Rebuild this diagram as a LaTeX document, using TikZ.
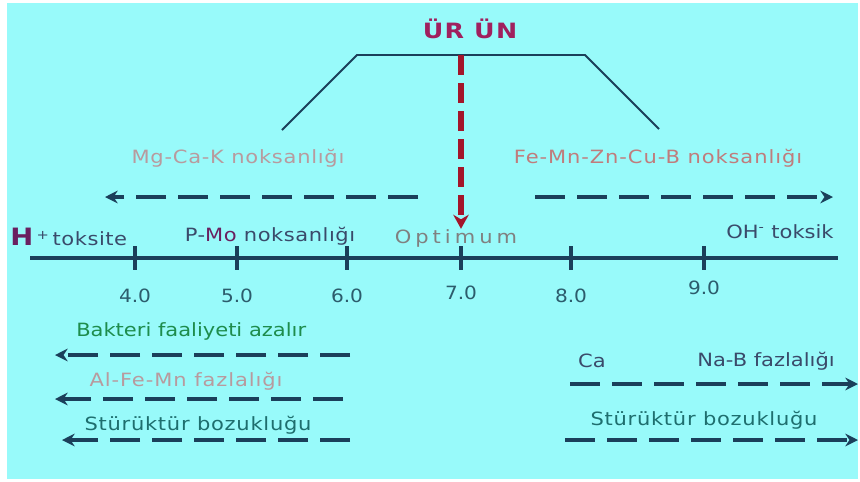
\documentclass[tikz,border=0pt]{standalone}
\usepackage{fontspec}
\setmainfont{DejaVu Sans}
\usetikzlibrary{arrows.meta, positioning}
\definecolor{bgcyan}{HTML}{98FAFA}
\definecolor{axisblue}{HTML}{1B3F5A}
\definecolor{optred}{HTML}{A3152A}
\definecolor{urunpink}{HTML}{A0205E}
\definecolor{greypink}{HTML}{B89A9E}
\definecolor{rosered}{HTML}{C07C7C}
\definecolor{bactgreen}{HTML}{1E8C4C}
\definecolor{tealtext}{HTML}{1E6E6E}
\definecolor{numteal}{HTML}{2C5C6C}
\definecolor{hpurple}{HTML}{6A2060}
\definecolor{darktext}{HTML}{3A4A6A}

\begin{document}
\begin{tikzpicture}[
    lbl/.style={font=\fontsize{13}{15}\selectfont\addfontfeatures{FakeStretch=1.15, LetterSpace=#1},
                inner sep=1pt},
    lbl/.default=4,
    num/.style={font=\fontsize{13}{15}\selectfont\addfontfeatures{FakeStretch=1.1},
                inner sep=1pt, text=numteal},
    dasharrow/.style={draw=axisblue, line width=2.6pt,
                      dash pattern=on 0.75cm off 0.3cm,
                      -{Stealth[length=9pt, width=9pt]}},
  ]
  % background
  \useasboundingbox (0,0) rectangle (21.5,-12.025);
  \fill[white] (0,0) rectangle (21.5,-12.025);
  \fill[bgcyan] (0.175,-0.075) rectangle (21.45,-11.975);

  % yield curve
  \coordinate (c1) at (7.05,-3.25);
  \coordinate (c2) at (8.925,-1.375);
  \coordinate (c3) at (14.625,-1.375);
  \coordinate (c4) at (16.475,-3.225);
  \draw[axisblue, line width=1.4pt] (c1) -- (c2) -- (c3) -- (c4);
  \node[font=\bfseries\fontsize{15}{17}\selectfont\addfontfeatures{FakeStretch=1.2, LetterSpace=6},
        text=urunpink] (urun) at (11.75,-0.72) {ÜR ÜN};

  % pH axis
  \coordinate (ax0) at (0.75,-6.45);
  \coordinate (ax1) at (20.95,-6.45);
  \draw[axisblue, line width=2.8pt] (ax0) -- (ax1);
  \foreach \x/\v/\y [count=\i] in {3.375/4.0/-7.4, 5.925/5.0/-7.4, 8.675/6.0/-7.4,
                                   11.525/7.0/-7.32, 14.275/8.0/-7.4, 17.6/9.0/-7.2} {
    \coordinate (t\i) at (\x,-6.15);
    \coordinate (b\i) at (\x,-6.75);
    \draw[axisblue, line width=2.2pt] (t\i) -- (b\i);
    \node[num] (n\i) at (\x,\y) {\v};
  }

  % optimum
  \coordinate (opttop) at (11.525,-1.375);
  \coordinate (optbot) at (11.525,-5.72);
  \draw[optred, line width=4pt, dash pattern=on 0.5cm off 0.2cm,
        -{Stealth[length=10pt, width=11pt]}] (opttop) -- (optbot);

  % upper labels and arrows
  \node[lbl, text=greypink] (mgcak) at (5.95,-3.95) {Mg-Ca-K noksanlığı};
  \node[lbl=5, text=rosered] (femn) at (16.45,-3.95) {Fe-Mn-Zn-Cu-B noksanlığı};
  \coordinate (ul0) at (10.45,-4.925);
  \coordinate (ul1) at (2.625,-4.925);
  \coordinate (ur0) at (13.375,-4.925);
  \coordinate (ur1) at (20.825,-4.925);
  \draw[dasharrow] (ul0) -- (ul1);
  \draw[dasharrow] (ur0) -- (ur1);

  \node[lbl=3, anchor=west, text=darktext] (htok) at (0.22,-5.93)
       {{\color{hpurple}\bfseries\fontsize{17}{19}\selectfont H}\,\textsuperscript{+}\,toksite};
  \node[lbl=3, text=darktext] (pmo) at (6.75,-5.9)
       {P-{\color{hpurple}Mo} noksanlığı};
  \node[lbl=22, text=gray] (optim) at (11.4,-5.95) {Optimum};
  \node[lbl=0, text=darktext] (ohtok) at (19.5,-5.78) {OH\textsuperscript{-} toksik};

  % lower left
  \node[lbl=0, text=bactgreen] (bakteri) at (4.78,-8.275) {Bakteri faaliyeti azalır};
  \node[lbl=5, text=greypink] (alfemn) at (4.65,-9.525) {Al-Fe-Mn fazlalığı};
  \node[lbl, text=tealtext] (strucl) at (4.95,-10.625) {Stürüktür bozukluğu};
  \coordinate (la0) at (8.75,-8.875);
  \coordinate (la1) at (1.375,-8.875);
  \coordinate (lb0) at (8.575,-9.975);
  \coordinate (lb1) at (1.375,-9.975);
  \coordinate (lc0) at (8.75,-11.0);
  \coordinate (lc1) at (1.55,-11.0);
  \draw[dasharrow] (la0) -- (la1);
  \draw[dasharrow] (lb0) -- (lb1);
  \draw[dasharrow] (lc0) -- (lc1);

  % lower right
  \node[lbl=0, text=darktext] (ca) at (14.8,-9.025) {Ca};
  \node[lbl=0, text=darktext] (nab) at (19.15,-9.025) {Na-B fazlalığı};
  \node[lbl, text=tealtext] (strucr) at (17.6,-10.5) {Stürüktür bozukluğu};
  \coordinate (ra0) at (14.25,-9.6);
  \coordinate (ra1) at (21.45,-9.6);
  \coordinate (rb0) at (14.125,-11.0);
  \coordinate (rb1) at (21.45,-11.0);
  \draw[dasharrow] (ra0) -- (ra1);
  \draw[dasharrow] (rb0) -- (rb1);
\end{tikzpicture}
\end{document}
